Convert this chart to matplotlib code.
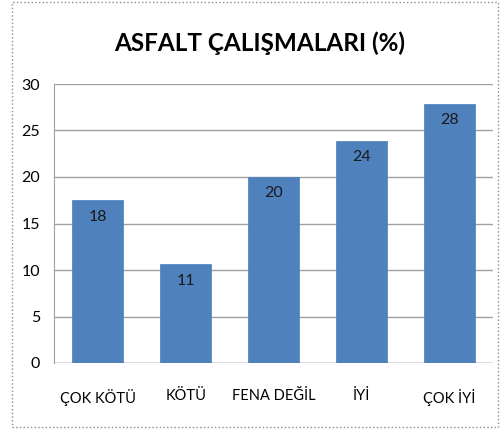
import matplotlib.pyplot as plt
from matplotlib.patches import Rectangle

categories = ['ÇOK KÖTÜ', 'KÖTÜ', 'FENA DEĞİL', 'İYİ', 'ÇOK İYİ']
values = [17.5, 10.6, 20.0, 23.9, 27.9]
labels = ['18', '11', '20', '24', '28']

plt.rcParams['font.family'] = ['Lato', 'DejaVu Sans']

fig = plt.figure(figsize=(5.01, 4.30), dpi=100)
ax = fig.add_axes([54 / 501, 1 - 363 / 430, 439 / 501, 279 / 430])

x = range(len(categories))
bars = ax.bar(x, values, width=0.58, color='#4F81BD', edgecolor='#4A7EBB', linewidth=0.5, zorder=3)
for b, lab in zip(bars, labels):
    ax.text(b.get_x() + b.get_width() / 2, b.get_height() - 1.0, lab,
            ha='center', va='top', fontsize=11.5, color='#1a1a1a', zorder=4)

ax.set_xlim(-0.5, len(categories) - 0.5)
ax.set_ylim(0, 30)
ax.set_yticks(range(0, 31, 5))
ax.set_xticks(list(x))
ax.set_xticklabels(categories, fontsize=10.5)
ax.tick_params(axis='y', labelsize=11.5, length=0, pad=10)
ax.tick_params(axis='x', length=0, pad=19)
ax.grid(axis='y', color='#A0A0A0', linewidth=1, zorder=0)
for s in ['top', 'right', 'bottom']:
    ax.spines[s].set_visible(False)
ax.spines['left'].set_color('#A0A0A0')
ax.axhline(0, color='#A0A0A0', linewidth=1, zorder=2)

fig.text(260 / 501, 1 - 43 / 430, 'ASFALT ÇALIŞMALARI (%)', ha='center', va='center',
         fontsize=17.5, fontweight='bold')

fig.patches.append(Rectangle((12 / 501, 1 - 427 / 430), 486 / 501, 425 / 430,
                             transform=fig.transFigure, fill=False,
                             edgecolor='#8C8C8C', linewidth=1, linestyle=':'))

plt.savefig('out.png', dpi=100)
